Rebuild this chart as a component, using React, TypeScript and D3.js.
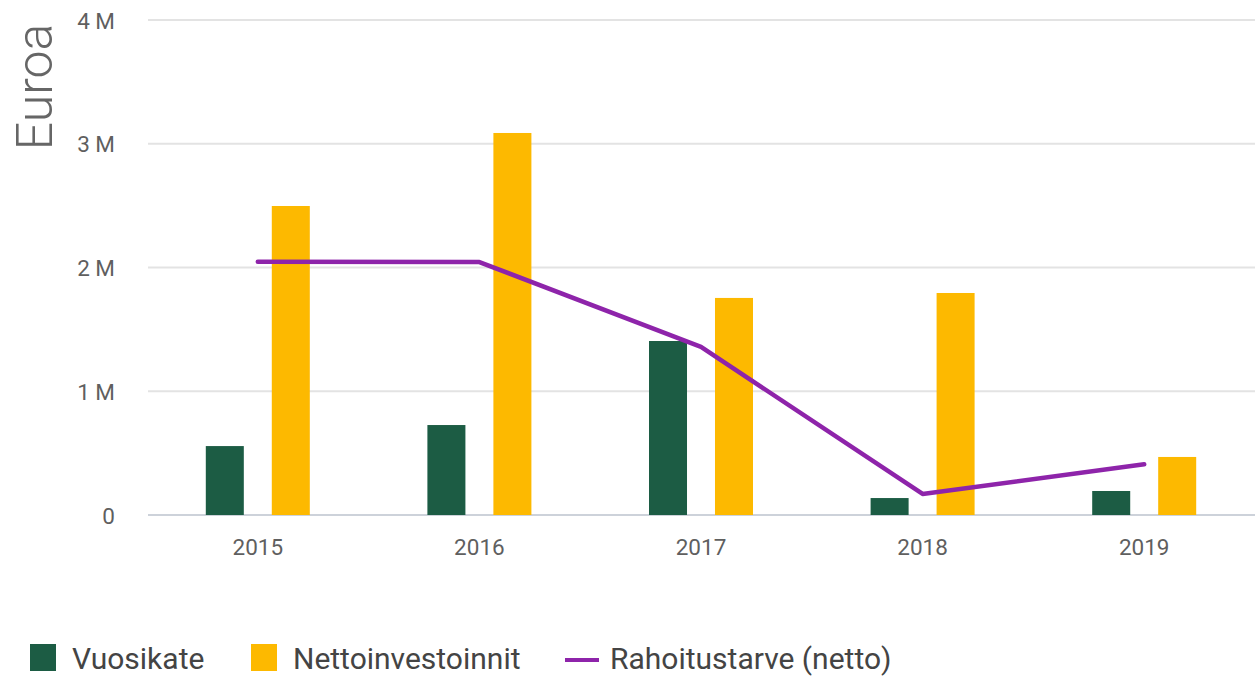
import React, { useEffect, useRef } from 'react';
import * as d3 from 'd3'

const years = ['2015', '2016', '2017', '2018', '2019']
const vuosikate = [557000, 727000, 1406000, 137000, 194000]
const nettoinvestoinnit = [2497000, 3087000, 1754000, 1794000, 469000]
const rahoitustarve = [2047000, 2044000, 1358000, 170000, 410000]
const yTicks = [0, 1000000, 2000000, 3000000, 4000000]
const yTickLabels = ['0', '1 M', '2 M', '3 M', '4 M']
const seriesNames = ['Vuosikate', 'Nettoinvestoinnit', 'Rahoitustarve (netto)']
const colors = ['#1c5c44', '#fdb900', '#8e24aa']

const App: React.FC = () => {
  const svgRef = useRef() as React.MutableRefObject<SVGSVGElement>

  useEffect(() => {
    const width = 1255
    const height = 680
    const font = 'Roboto, "Noto Sans", sans-serif'

    d3.select(svgRef.current).html('')

    const svg = d3.select(svgRef.current)
      .attr('width', width)
      .attr('height', height)
      .attr('viewBox', `0 0 ${width} ${height}`)

    const x = d3.scaleBand()
      .domain(years)
      .range([147, 1255])

    const x1 = d3.scaleBand()
      .domain(['v', 'n'])
      .range([-52, 52])
      .paddingInner(0.424)

    const y = d3.scaleLinear()
      .domain([0, 4000000])
      .range([515, 20])

    // gridlines
    svg.append('g')
      .selectAll('line')
      .data(yTicks)
      .join('line')
      .attr('x1', 148)
      .attr('x2', width)
      .attr('y1', d => y(d))
      .attr('y2', d => y(d))
      .attr('stroke', d => d === 0 ? '#cdd2da' : '#e3e3e3')
      .attr('stroke-width', 2)

    // y tick labels
    svg.append('g')
      .selectAll('text')
      .data(yTicks)
      .join('text')
      .attr('x', 115)
      .attr('y', d => y(d))
      .attr('dy', '0.38em')
      .attr('text-anchor', 'end')
      .attr('font-family', font)
      .attr('font-size', 22.5)
      .attr('fill', '#5f5f5f')
      .text((d, i) => yTickLabels[i])

    // axis title
    svg.append('text')
      .attr('transform', 'translate(52, 87) rotate(-90)')
      .attr('text-anchor', 'middle')
      .attr('font-family', font)
      .attr('font-weight', 300)
      .attr('font-size', 50)
      .attr('fill', '#666')
      .text('Euroa')

    // x tick labels
    svg.append('g')
      .selectAll('text')
      .data(years)
      .join('text')
      .attr('x', d => x(d)! + x.bandwidth() / 2)
      .attr('y', 555)
      .attr('text-anchor', 'middle')
      .attr('font-family', font)
      .attr('font-size', 22.5)
      .attr('fill', '#5f5f5f')
      .text(d => d)

    // bars
    const groups = svg.append('g')
      .selectAll('g')
      .data(years)
      .join('g')
      .attr('transform', d => `translate(${x(d)! + x.bandwidth() / 2}, 0)`)

    groups.append('rect')
      .attr('x', x1('v')!)
      .attr('width', x1.bandwidth())
      .attr('y', (d, i) => y(vuosikate[i]))
      .attr('height', (d, i) => y(0) - y(vuosikate[i]))
      .attr('fill', colors[0])

    groups.append('rect')
      .attr('x', x1('n')!)
      .attr('width', x1.bandwidth())
      .attr('y', (d, i) => y(nettoinvestoinnit[i]))
      .attr('height', (d, i) => y(0) - y(nettoinvestoinnit[i]))
      .attr('fill', colors[1])

    // line
    const line = d3.line<number>()
      .x((d, i) => x(years[i])! + x.bandwidth() / 2)
      .y(d => y(d))

    svg.append('path')
      .datum(rahoitustarve)
      .attr('fill', 'none')
      .attr('stroke', colors[2])
      .attr('stroke-width', 4.5)
      .attr('stroke-linecap', 'round')
      .attr('stroke-linejoin', 'round')
      .attr('d', line)

    // legend
    const legendX = [30, 251, 565]
    const legend = svg.append('g')
      .selectAll('g')
      .data(seriesNames)
      .join('g')
      .attr('transform', (d, i) => `translate(${legendX[i]}, 658)`)

    legend.each(function (d, i) {
      const g = d3.select(this)
      if (i < 2) {
        g.append('rect')
          .attr('x', 0)
          .attr('y', -14)
          .attr('width', 26)
          .attr('height', 27)
          .attr('fill', colors[i])
      } else {
        g.append('line')
          .attr('x1', 0)
          .attr('x2', 34)
          .attr('y1', 2)
          .attr('y2', 2)
          .attr('stroke', colors[i])
          .attr('stroke-width', 4)
      }
      g.append('text')
        .attr('x', i < 2 ? 42 : 45)
        .attr('y', 0)
        .attr('dy', '0.36em')
        .attr('font-family', font)
        .attr('font-size', 30)
        .attr('fill', '#444')
        .text(d)
    })
  }, [])

  return <svg ref={svgRef} style={{ position: 'absolute', left: 0, top: 0, display: 'block' }} />
}

export default App
